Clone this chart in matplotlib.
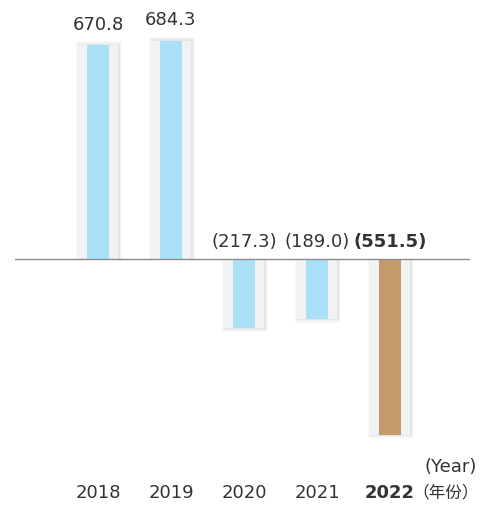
import numpy as np
import matplotlib.pyplot as plt

years = ["2018", "2019", "2020", "2021", "2022"]
values = [670.8, 684.3, -217.3, -189.0, -551.5]
labels = ["670.8", "684.3", "(217.3)", "(189.0)", "(551.5)"]

plt.rcParams['font.family'] = ['DejaVu Sans', 'Noto Sans CJK SC']

fig = plt.figure(figsize=(4.81, 5.06), dpi=100)
# axes placed in pixel terms: left 15, right 470, bottom 450, top 20
ax = fig.add_axes([15 / 481, 1 - 450 / 506, 455 / 481, 430 / 506])
ax.set_xlim(-1.137, 5.096)
ax.set_ylim(-596, 752)
ax.axis("off")

x = np.arange(len(years))
outer_w = 0.55
inner_w = 0.30

# soft shadow behind the grey bars
for i, a in enumerate([0.05, 0.03, 0.018]):
    grow = 0.012 * (i + 1)
    pad = 4 * (i + 1)
    for xi, v in zip(x, values):
        h = v + pad if v > 0 else v - pad
        ax.bar(xi + 0.012, h, width=outer_w + 2 * grow, bottom=0,
               color="black", alpha=a, linewidth=0, zorder=1)

ax.bar(x, values, width=outer_w, color="#F1F2F4", linewidth=0, zorder=2)
inner_colors = ["#ABE0F9"] * 4 + ["#C39A6B"]
ax.bar(x, values, width=inner_w, color=inner_colors, linewidth=0, zorder=3)

ax.axhline(0, color="#8C8C8C", linewidth=1, zorder=4)

for xi, v, lab in zip(x, values, labels):
    ypos = v + 38 if v > 0 else 28
    ax.text(xi, ypos, lab, ha="center", va="bottom", fontsize=13,
            color="#333333", fontweight="bold" if lab == "(551.5)" else "normal",
            zorder=5)

for xi, yr in zip(x, years):
    fig.text((15 + (xi + 1.137) / 6.233 * 455) / 481, 1 - 493 / 506, yr,
             ha="center", va="center", fontsize=13, color="#333333",
             fontweight="bold" if yr == "2022" else "normal")

fig.text(425 / 481, 1 - 467 / 506, "(Year)", ha="left", va="center",
         fontsize=13, color="#333333")
fig.text(479 / 481, 1 - 493 / 506, "（年份）", ha="right", va="center",
         fontsize=12, color="#333333", family=['Noto Sans CJK SC', 'DejaVu Sans'])

fig.savefig("out.png", dpi=100)
